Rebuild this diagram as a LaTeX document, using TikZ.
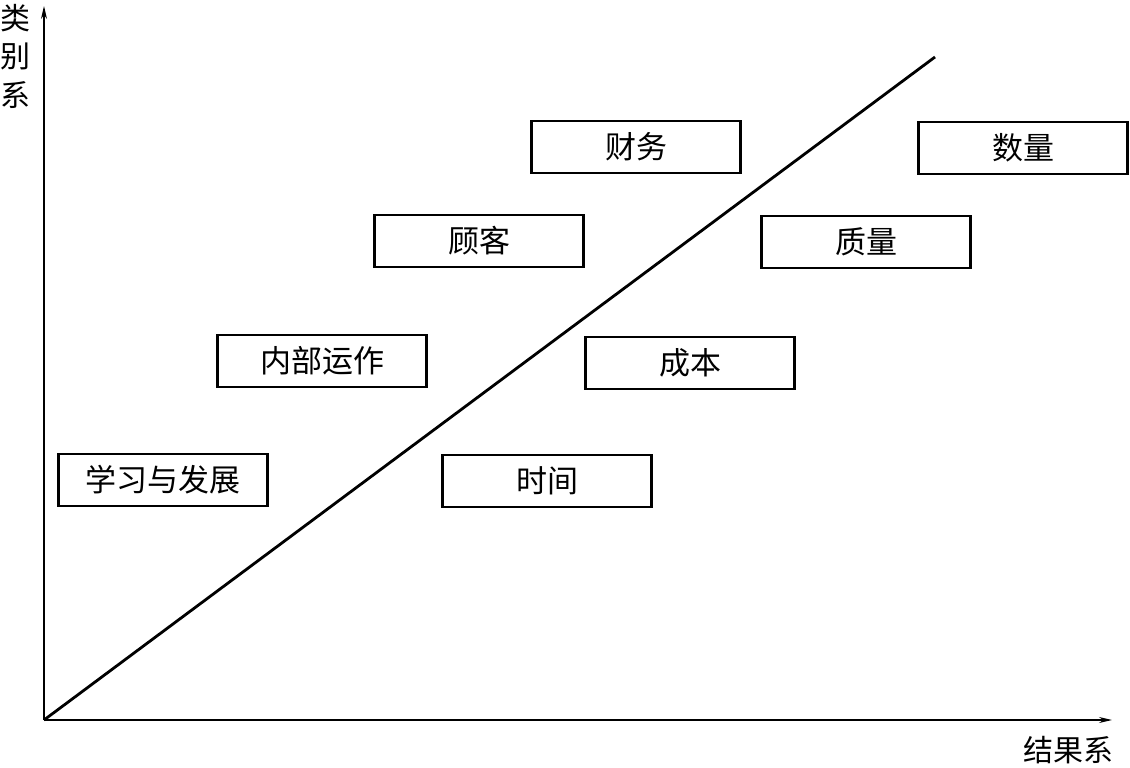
\documentclass[tikz,border=0pt]{standalone}
\usepackage{fontspec}
\newfontfamily\cjk{Noto Sans CJK SC}
\usetikzlibrary{arrows.meta}
\tikzset{
    catbox/.style = {
        rectangle,
        draw=black,
        line width=2.6pt,
        minimum width=209pt,
        minimum height=52pt,
        inner sep=0pt,
        outer sep=0pt,
        font=\cjk\fontsize{31}{34}\selectfont
    },
    axislabel/.style = {
        inner sep=0pt,
        font=\cjk\fontsize{30}{33}\selectfont
    },
    axis/.style = {
        line width=1.3pt,
        -{Stealth[length=13pt,width=6pt]}
    }
}

\begin{document}
\begin{tikzpicture}[x=1pt,y=-1pt]
    \useasboundingbox (0,0) rectangle (1130,768);
    % axes
    \coordinate (origin) at (44,720);
    \coordinate (ytip) at (44,6);
    \coordinate (xtip) at (1112,720);
    \coordinate (diagend) at (935,57);
    \draw [axis] (origin) -- (ytip);
    \draw [axis] (origin) -- (xtip);
    \draw [line width=2.8pt] (origin) -- (diagend);
    % axis labels
    \node [axislabel] (ylab1) at (15,18) {类};
    \node [axislabel] (ylab2) at (15,56) {别};
    \node [axislabel] (ylab3) at (15,95) {系};
    \node [axislabel] (xlab) at (1068,750) {结果系};
    % category boxes
    \node [catbox] (finance) at (636,147) {财务};
    \node [catbox] (customer) at (479,241) {顾客};
    \node [catbox] (internal) at (322,361) {内部运作};
    \node [catbox] (learning) at (163,480) {学习与发展};
    % result boxes
    \node [catbox] (quantity) at (1023,148) {数量};
    \node [catbox] (quality) at (866,242) {质量};
    \node [catbox] (cost) at (690,363) {成本};
    \node [catbox] (time) at (547,481) {时间};
\end{tikzpicture}
\end{document}
